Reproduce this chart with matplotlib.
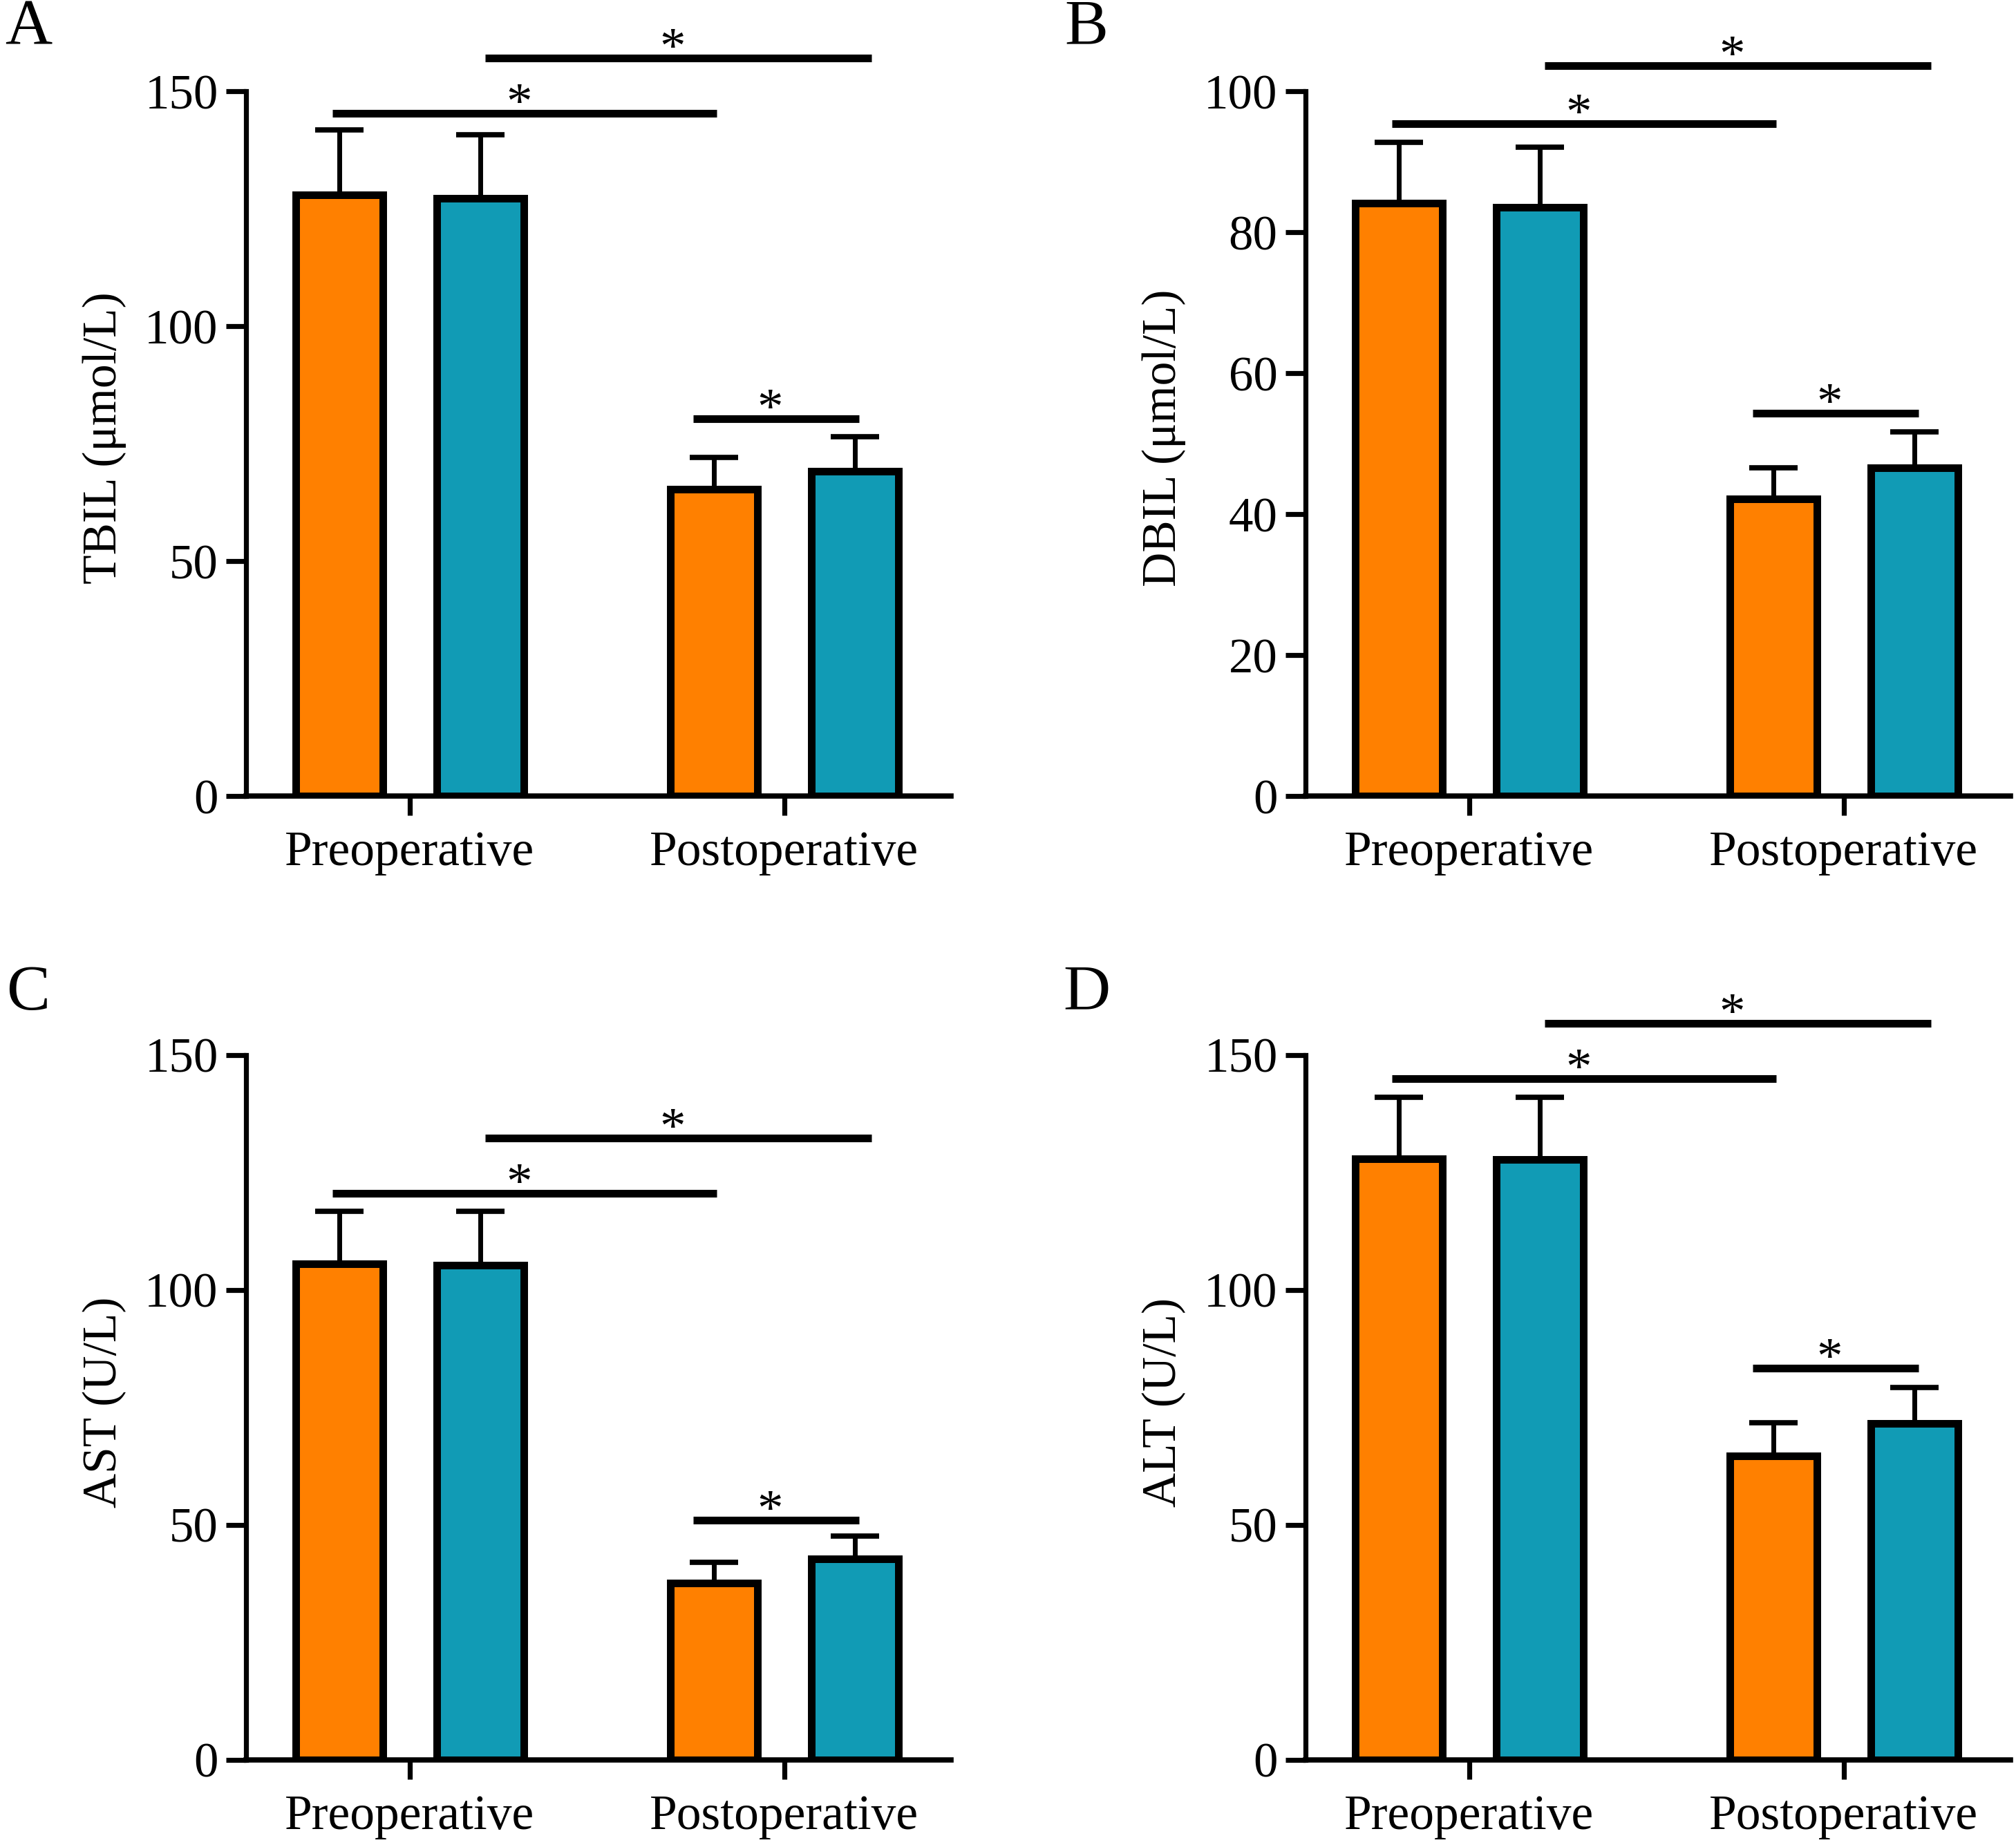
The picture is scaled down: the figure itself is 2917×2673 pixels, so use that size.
import matplotlib
matplotlib.use('Agg')
import matplotlib.pyplot as plt

plt.rcParams['font.family'] = ['Liberation Serif', 'DejaVu Serif']

groups = ['Preoperative', 'Postoperative']
panelLetters = ['A', 'B', 'C', 'D']
yLabels = ['TBIL (\u03bcmol/L)', 'DBIL (\u03bcmol/L)', 'AST (U/L)', 'ALT (U/L)']
yTicks = [[0, 50, 100, 150], [0, 20, 40, 60, 80, 100], [0, 50, 100, 150], [0, 50, 100, 150]]

# bar order per panel: pre orange, pre teal, post orange, post teal
tbilMean = [128.0, 127.2, 65.3, 69.1]
tbilErr = [13.7, 13.6, 6.8, 7.3]
dbilMean = [84.1, 83.5, 42.2, 46.6]
dbilErr = [8.6, 8.6, 4.4, 5.1]
astMean = [105.6, 105.3, 37.6, 42.8]
astErr = [11.2, 11.5, 4.4, 4.9]
altMean = [128.0, 127.8, 64.7, 71.6]
altErr = [13.0, 13.2, 7.1, 7.6]

# significance lines: (left bar, right bar, height)
tbilSig = [(0, 2, 145.3), (1, 3, 157.1), (2, 3, 80.3)]
dbilSig = [(0, 2, 95.4), (1, 3, 103.6), (2, 3, 54.3)]
astSig = [(0, 2, 120.6), (1, 3, 132.4), (2, 3, 51.0)]
altSig = [(0, 2, 145.0), (1, 3, 156.8), (2, 3, 83.4)]

means = [tbilMean, dbilMean, astMean, altMean]
errs = [tbilErr, dbilErr, astErr, altErr]
sigs = [tbilSig, dbilSig, astSig, altSig]
yTops = [165, 110, 165, 165]

colors = ['#FF8000', '#119BB5', '#FF8000', '#119BB5']

# how far each comparison line runs past its bar centres (left, right)
sigPads = [(-0.018, 0.008), (0.014, 0.044), (-0.056, 0.011)]

W, H = 2917.0, 2673.0
fig = plt.figure(figsize=(29.17, 26.73), dpi=100)

# axes frames in pixels: left, zero line, top
axesLeft = [356, 1889, 356, 1889]
axesBottom = [1152, 1152, 2547, 2547]
axesTop = [30, 30, 1425, 1425]
axesWidth = 1020

offset = 0.188
barWidth = 0.232
xPos = [0 - offset, 0 + offset, 1 - offset, 1 + offset]

for i in range(4):
    rect = [axesLeft[i] / W, 1 - axesBottom[i] / H,
            axesWidth / W, (axesBottom[i] - axesTop[i]) / H]
    ax = fig.add_axes(rect)

    ax.bar(xPos, means[i], width=barWidth, color=colors, edgecolor='black',
           linewidth=7.9, zorder=3)
    ax.errorbar(xPos, means[i], yerr=[[0] * 4, errs[i]], fmt='none', ecolor='black',
                elinewidth=5, capsize=25, capthick=5.5, zorder=2)

    for k, (left, right, h) in enumerate(sigs[i]):
        x1 = xPos[left] + sigPads[k][0]
        x2 = xPos[right] + sigPads[k][1]
        ax.plot([x1, x2], [h, h], color='black', linewidth=8, solid_capstyle='butt',
                clip_on=False, zorder=4)
        ax.annotate('*', xy=((x1 + x2) / 2 - 0.015, h), xytext=(0, -5),
                    textcoords='offset points', ha='center', va='baseline',
                    fontsize=54, annotation_clip=False)

    ax.set_xlim(-0.437, 1.445)
    ax.set_ylim(0, yTops[i])
    ax.set_xticks([0, 1])
    ax.set_xticklabels(groups, fontsize=51.5)
    ax.set_yticks(yTicks[i])
    ax.tick_params(axis='y', labelsize=51, width=5.2, length=21, pad=8)
    ax.tick_params(axis='x', width=5.2, length=20, pad=16)
    ax.spines['top'].set_visible(False)
    ax.spines['right'].set_visible(False)
    ax.spines['left'].set_linewidth(5.2)
    ax.spines['bottom'].set_linewidth(5.5)
    ax.spines['left'].set_bounds(0, yTicks[i][-1])
    ax.set_ylabel(yLabels[i], fontsize=50)
    ax.yaxis.set_label_coords(-0.170, yTicks[i][-1] / 2.0 / yTops[i] + 0.007)

    lx = 41 if i % 2 == 0 else 1572
    ly = 41 if i < 2 else 1438
    fig.text(lx / W, 1 - ly / H, panelLetters[i], fontsize=68, ha='center', va='center')

fig.savefig('out.png', dpi=100)
